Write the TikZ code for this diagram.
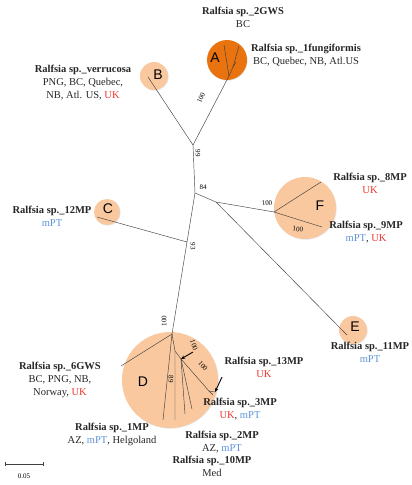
\documentclass[tikz,border=0pt]{standalone}
\usepackage{fontspec}
\setmainfont{Liberation Serif}
\newfontfamily\cladefont{Liberation Sans}
\usetikzlibrary{arrows.meta,shadows}
\definecolor{peach}{HTML}{F9C89E}
\definecolor{deeporange}{HTML}{E8730F}
\definecolor{ukred}{HTML}{F2352E}
\definecolor{ptblue}{HTML}{5B93D8}
\newcommand{\UK}{\textcolor{ukred}{UK}}
\newcommand{\mPT}{\textcolor{ptblue}{mPT}}

\begin{document}
\begin{tikzpicture}[x=1pt,y=-1pt,
    branch/.style={draw=black!75,line width=0.45pt},
    cladebox/.style={circle,fill=peach,draw=none,inner sep=0pt,
      drop shadow={opacity=0.2,shadow xshift=0.7pt,shadow yshift=-0.7pt}},
    cladelbl/.style={font=\cladefont\fontsize{14}{14}\selectfont,inner sep=0pt},
    taxon/.style={align=center,anchor=north,inner sep=0pt,text=black!85,
      font=\fontsize{10.5}{13}\selectfont},
    support/.style={font=\fontsize{7}{7}\selectfont,inner sep=0.5pt},
    pointer/.style={-{Stealth[length=4pt,width=3.5pt]},line width=0.9pt}]
  \useasboundingbox (0,0) rectangle (412,485);

  % clade circles
  \node[cladebox,minimum size=40pt,fill=deeporange] (cA) at (227,60) {};
  \node[cladebox,minimum size=28pt] (cB) at (154,76) {};
  \node[cladebox,minimum size=26pt] (cC) at (107,212) {};
  \node[cladebox,minimum size=96pt] (cD) at (170,380) {};
  \node[cladebox,minimum size=28pt] (cE) at (353,330) {};
  \node[cladebox,minimum size=62pt] (cF) at (305,208) {};
  \node[cladelbl] (lA) at (215,58) {A};
  \node[cladelbl] (lB) at (158,75) {B};
  \node[cladelbl] (lC) at (108,209) {C};
  \node[cladelbl] (lD) at (143,382) {D};
  \node[cladelbl] (lE) at (355,327) {E};
  \node[cladelbl] (lF) at (320,206) {F};

  % internal nodes and tips
  \coordinate (p1) at (193,145);
  \coordinate (p2) at (195,193);
  \coordinate (p3) at (216,202);
  \coordinate (p4) at (187,242);
  \coordinate (pD) at (172,334);
  \coordinate (pF) at (274,212);
  \coordinate (nA) at (229,76);
  \coordinate (nA2) at (233,67);
  \coordinate (tA1) at (224,45);
  \coordinate (tA2) at (239,46);
  \coordinate (tA3) at (236,62);
  \coordinate (tB) at (148,77);
  \coordinate (tC) at (97,217);
  \coordinate (tE) at (347,335);
  \coordinate (tF1) at (321,182);
  \coordinate (tF2) at (322,227);
  \coordinate (t6) at (121,366);
  \coordinate (t1) at (163,420);
  \coordinate (s1) at (175,351);
  \coordinate (s2) at (181,359);
  \coordinate (s3) at (209,391);
  \coordinate (t10) at (175,420);
  \coordinate (t2) at (185,414);
  \coordinate (t3) at (192,409);
  \coordinate (t13a) at (213,395);
  \coordinate (t13b) at (215,392);

  % tree
  \draw[branch] (p1) -- (tB);
  \draw[branch] (p1) -- (nA) -- (tA1);
  \draw[branch] (nA) -- (nA2) -- (tA2);
  \draw[branch] (nA2) -- (tA3);
  \draw[branch] (p1) -- (p2) -- (p3) -- (pF);
  \draw[branch] (pF) -- (tF1);
  \draw[branch] (pF) -- (tF2);
  \draw[branch] (p3) -- (tE);
  \draw[branch] (p2) -- (p4) -- (tC);
  \draw[branch] (p4) -- (pD);
  \draw[branch] (pD) -- (t6);
  \draw[branch] (pD) -- (t1);
  \draw[branch] (pD) -- (s1) -- (t10);
  \draw[branch] (s1) -- (s2) -- (t2);
  \draw[branch] (s2) -- (t3);
  \draw[branch] (s2) -- (s3) -- (t13a);
  \draw[branch] (s3) -- (t13b);

  % support values
  \node[support,rotate=-90] (v99) at (198,153) {99};
  \node[support,rotate=64] (vA) at (201,98) {100};
  \node[support] (v84) at (203,187) {84};
  \node[support,rotate=-90] (v93) at (193,246) {93};
  \node[support,rotate=90] (vD) at (164,321) {100};
  \node[support,rotate=6] (vF1) at (267,203) {100};
  \node[support,rotate=-8] (vF2) at (298,229) {100};
  \node[support,rotate=-72] (vD2) at (194,345) {100};
  \node[support,rotate=-48] (vD3) at (203,366) {100};
  \node[support,rotate=-90] (v89) at (171,379) {89};

  % pointers
  \coordinate (a1) at (193,352);
  \coordinate (a2) at (222,377);
  \draw[pointer] (a1) -- (s2);
  \draw[pointer] (a2) -- (t13b);

  % taxa
  \node[taxon] (verr) at (83,65) {\textbf{Ralfsia sp.\_verrucosa}\\PNG, BC, Quebec,\\NB, Atl. US, \UK};
  \node[taxon] (gws2) at (243,7) {\textbf{Ralfsia sp.\_2GWS}\\BC};
  \node[taxon] (fung) at (306,44) {\textbf{Ralfsia sp.\_1fungiformis}\\BC, Quebec, NB, Atl.US};
  \node[taxon] (mp12) at (52,206) {\textbf{Ralfsia sp.\_12MP}\\\mPT};
  \node[taxon] (mp8) at (370,173) {\textbf{Ralfsia sp.\_8MP}\\\UK};
  \node[taxon] (mp9) at (366,221) {\textbf{Ralfsia sp.\_9MP}\\\mPT, \UK};
  \node[taxon] (mp11) at (370,342) {\textbf{Ralfsia sp.\_11MP}\\\mPT};
  \node[taxon] (gws6) at (60,362) {\textbf{Ralfsia sp.\_6GWS}\\BC, PNG, NB,\\Norway, \UK};
  \node[taxon] (mp13) at (264,357) {\textbf{Ralfsia sp.\_13MP}\\\UK};
  \node[taxon] (mp3) at (240,398) {\textbf{Ralfsia sp.\_3MP}\\\UK, \mPT};
  \node[taxon] (mp1) at (112,423) {\textbf{Ralfsia sp.\_1MP}\\AZ, \mPT, Helgoland};
  \node[taxon] (mp2) at (222,431) {\textbf{Ralfsia sp.\_2MP}\\AZ, \mPT};
  \node[taxon] (mp10) at (212,456) {\textbf{Ralfsia sp.\_10MP}\\Med};

  % scale bar
  \coordinate (sb1) at (5,464);
  \coordinate (sb2) at (43,464);
  \draw[branch,{Bar[width=4pt]}-{Bar[width=4pt]}] (sb1) -- (sb2);
  \node[support,font=\fontsize{7}{8}\selectfont] (sbl) at (24,476) {0.05};
\end{tikzpicture}
\end{document}
